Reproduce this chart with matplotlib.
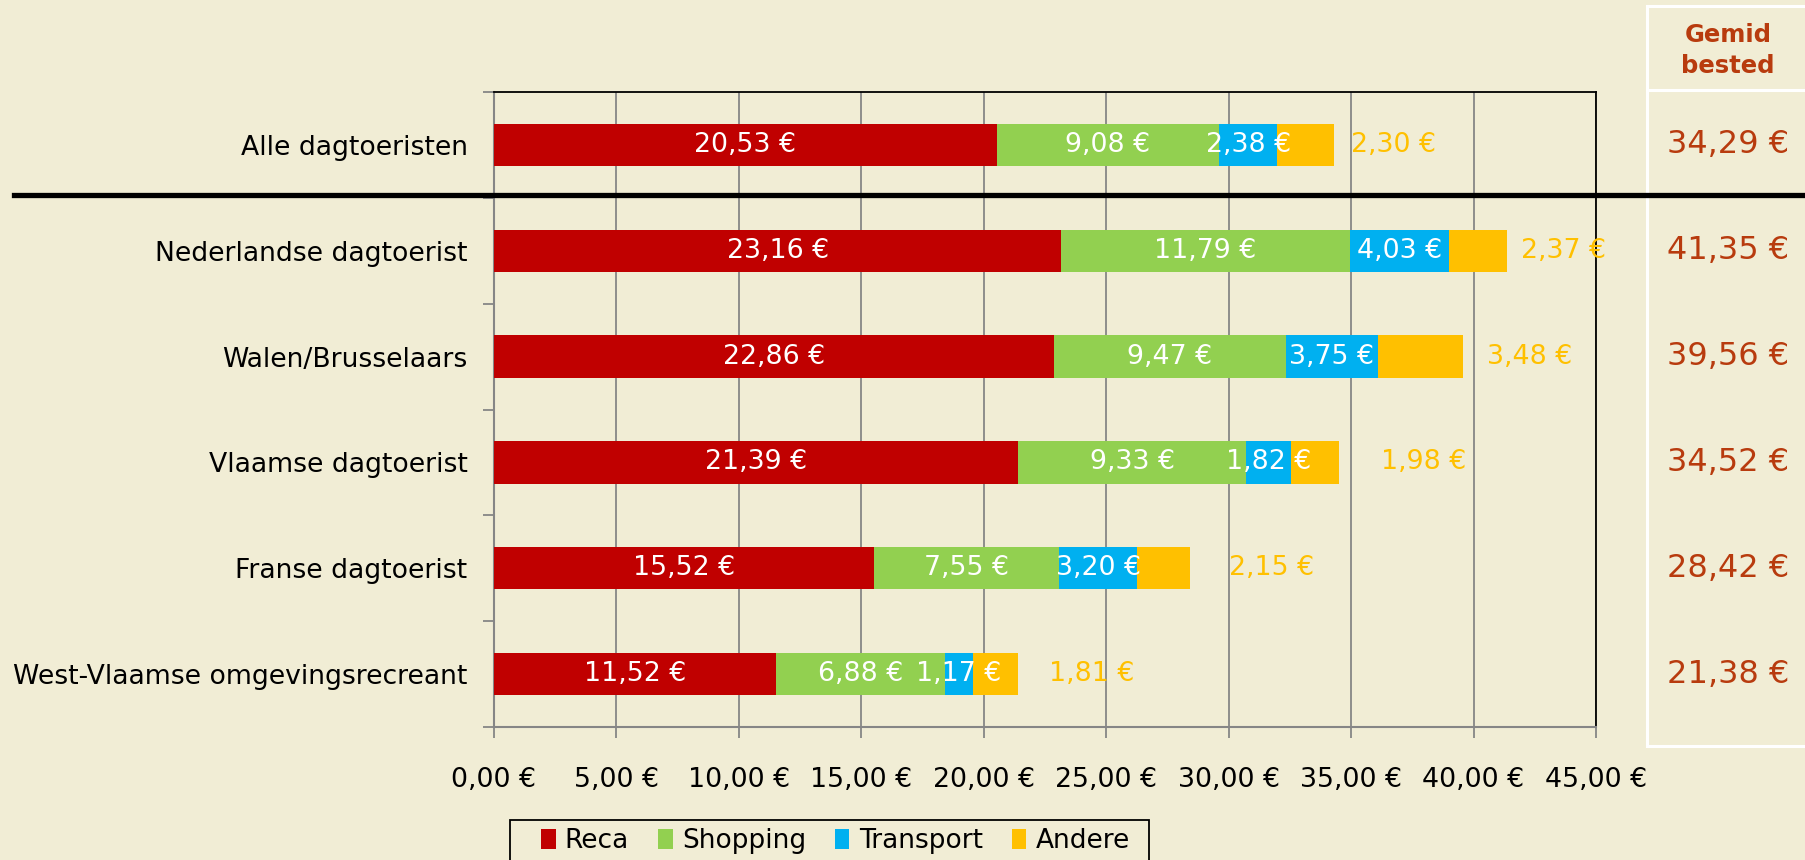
import matplotlib
matplotlib.use('Agg')
import matplotlib.pyplot as plt
import matplotlib.transforms as mtransforms
from matplotlib.lines import Line2D
from matplotlib.patches import Patch, Rectangle
import numpy as np

groups = ['Alle dagtoeristen', 'Nederlandse dagtoerist', 'Walen/Brusselaars',
          'Vlaamse dagtoerist', 'Franse dagtoerist', 'West-Vlaamse omgevingsrecreant']
reca = [20.53, 23.16, 22.86, 21.39, 15.52, 11.52]
shopping = [9.08, 11.79, 9.47, 9.33, 7.55, 6.88]
transport = [2.38, 4.03, 3.75, 1.82, 3.20, 1.17]
andere = [2.30, 2.37, 3.48, 1.98, 2.15, 1.81]
series_names = ['Reca', 'Shopping', 'Transport', 'Andere']
x_ticks = [0, 5, 10, 15, 20, 25, 30, 35, 40, 45]

# spacing (in euro) between the end of each bar and its 'Andere' label
andere_gap = [0.7, 0.6, 1.0, 1.7, 1.6, 1.3]

colors = ['#C00000', '#92D050', '#00B0F0', '#FFC000']
bg = '#F1EDD5'
accent = '#B83B0E'
axis_grey = '#868686'


def euro(v):
    return f'{v:.2f} €'.replace('.', ',')


fig = plt.figure(figsize=(18.06, 8.6), dpi=100, facecolor=bg)
ax = fig.add_axes([494 / 1806, 1 - 727 / 860, 1102 / 1806, 635 / 860], facecolor=bg)

y = np.arange(len(groups))[::-1]
left = np.zeros(len(groups))
for vals, color, name in zip([reca, shopping, transport, andere], colors, series_names):
    vals = np.array(vals)
    ax.barh(y, vals, left=left, height=0.4, color=color, label=name, zorder=3)
    if name != 'Andere':
        for yi, l, v in zip(y, left, vals):
            ax.text(l + v / 2, yi, euro(v), ha='center', va='center',
                    color='white', fontsize=19.3, zorder=6)
    left = left + vals

# 'Andere' labels sit just right of the stacked bars
for yi, end, v, gap in zip(y, left, andere, andere_gap):
    ax.text(end + gap, yi, euro(v), ha='left', va='center',
            color='#FFC000', fontsize=19.3, zorder=6)

ax.set_xlim(0, 45)
ax.set_ylim(-0.5, len(groups) - 0.5)
ax.set_xticks(x_ticks)
ax.set_xticklabels([euro(t) for t in x_ticks])
ax.tick_params(axis='x', direction='out', length=8, width=1.3, color=axis_grey,
               pad=21, labelsize=19.3, labelcolor='black')

ax.set_yticks(np.arange(-0.5, len(groups), 1))
ax.set_yticklabels([])
ax.tick_params(axis='y', which='major', direction='out', length=8, width=1.3, color=axis_grey)
ax.set_yticks(y, minor=True)
ax.set_yticklabels(groups, minor=True)
ax.tick_params(axis='y', which='minor', length=0, pad=19, labelsize=19.2)

ax.grid(axis='x', color=axis_grey, lw=1.3)
ax.set_axisbelow(True)
for side in ['left', 'bottom']:
    ax.spines[side].set_color(axis_grey)
    ax.spines[side].set_linewidth(1.5)
for side in ['top', 'right']:
    ax.spines[side].set_color('black')
    ax.spines[side].set_linewidth(1.3)

# right-hand column with the average spend per group
totals = left
tx = 1728 / 1806
for xs, ys in [([1647 / 1806, 1647 / 1806], [1 - 6 / 860, 1 - 746 / 860]),
               ([1647 / 1806, 1], [1 - 6 / 860, 1 - 6 / 860]),
               ([1647 / 1806, 1], [1 - 90 / 860, 1 - 90 / 860]),
               ([1647 / 1806, 1], [1 - 746 / 860, 1 - 746 / 860])]:
    fig.add_artist(Line2D(xs, ys, color='white', lw=2.2, transform=fig.transFigure, zorder=8))
fig.text(tx, 1 - 35 / 860, 'Gemid', ha='center', va='center', fontsize=17.5,
         fontweight='bold', color=accent)
fig.text(tx, 1 - 66 / 860, 'bested', ha='center', va='center', fontsize=17.5,
         fontweight='bold', color=accent)
trans = mtransforms.blended_transform_factory(fig.transFigure, ax.transData)
for yi, t in zip(y, totals):
    ax.text(tx, yi, euro(t), transform=trans, ha='center', va='center',
            fontsize=23, color=accent, clip_on=False)

# separator between the overall row and the subgroups
fig.add_artist(Line2D([14 / 1806, 1], [1 - 195 / 860] * 2, color='black', lw=3.8,
                      transform=fig.transFigure, zorder=10))

# legend: frame drawn separately so it can run past the bottom edge
fig.add_artist(Rectangle((510 / 1806, -0.05), 639 / 1806, 0.05 + 1 - 820 / 860,
                         transform=fig.transFigure, facecolor=bg, edgecolor='black',
                         lw=1.3, zorder=4))
handles = [Patch(facecolor=c, edgecolor='none', label=n) for c, n in zip(colors, series_names)]
leg = fig.legend(handles=handles, loc='center left', bbox_to_anchor=(541 / 1806, 1 - 841 / 860),
                 ncol=4, frameon=False, borderaxespad=0, borderpad=0,
                 handlelength=0.55, handleheight=0.8, handletextpad=0.35,
                 columnspacing=1.1, prop={'size': 19})
leg.set_zorder(5)

fig.savefig('out.png', dpi=100, facecolor=bg)
